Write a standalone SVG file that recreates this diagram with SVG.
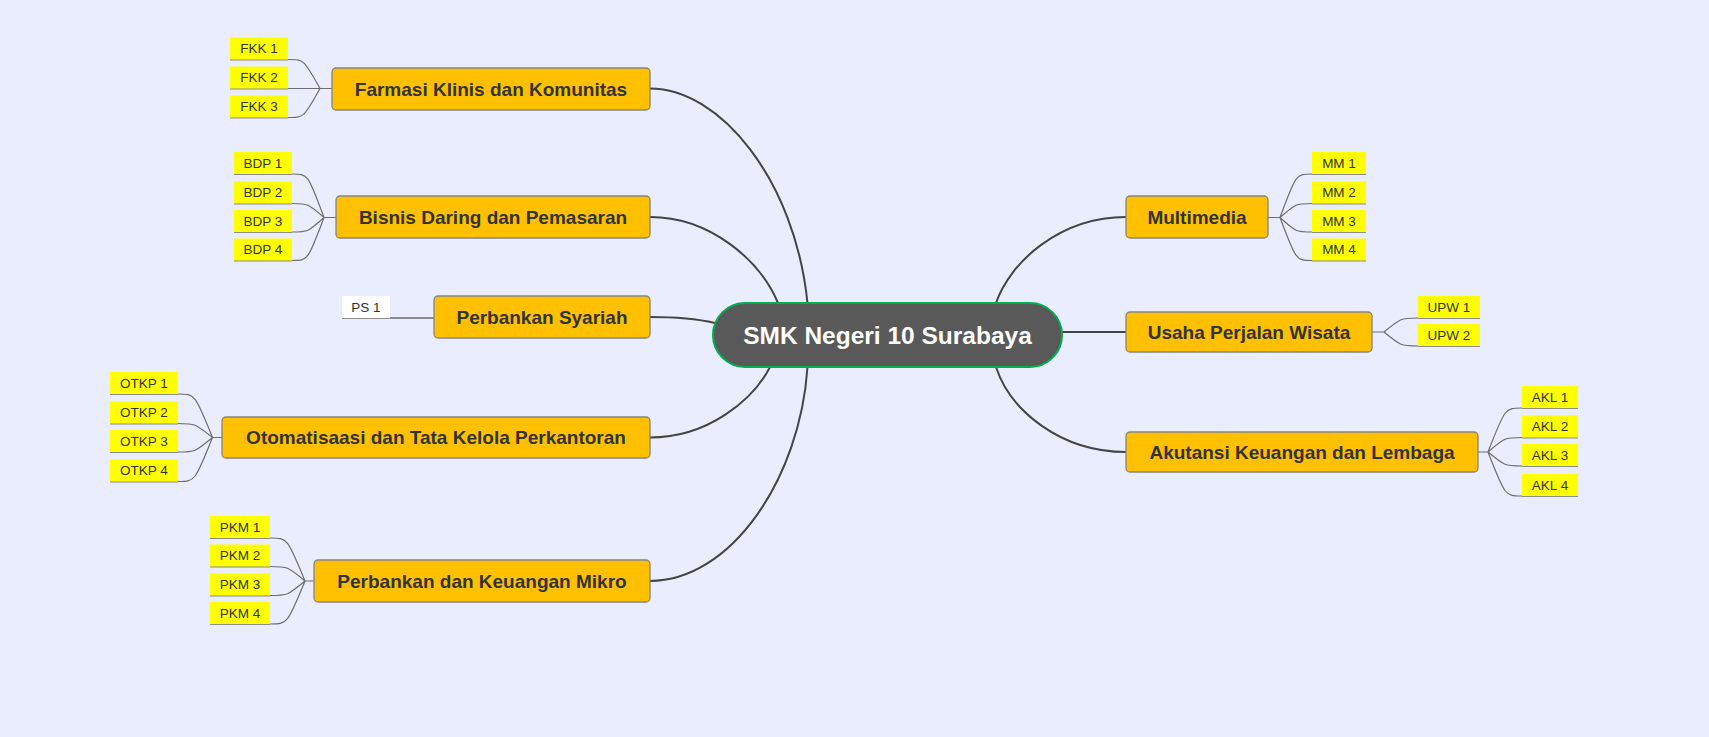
<svg xmlns="http://www.w3.org/2000/svg" width="1709" height="737" viewBox="0 0 1709 737">
<style>
.bg{fill:#E9EDFE}
.node{fill:#FFC000;stroke:#858585;stroke-width:1.3}
.center{fill:#595959;stroke:#00B050;stroke-width:2}
.lab{fill:#FFFF00}
.labw{fill:#FFFFFF}
.nt{font-family:"Liberation Sans",Arial,sans-serif;font-weight:bold;font-size:19px;fill:#333333;text-anchor:middle}
.ct{font-family:"Liberation Sans",Arial,sans-serif;font-weight:bold;font-size:24.5px;fill:#FFFFFF;text-anchor:middle}
.lt{font-family:"Liberation Sans",Arial,sans-serif;font-size:13.5px;fill:#333333;text-anchor:middle}
.main{fill:none;stroke:#444444;stroke-width:2}
.sub{fill:none;stroke:#6E6E6E;stroke-width:1.2}
.ul{fill:none;stroke:#8C8C8C;stroke-width:2}
</style>
<rect class="bg" x="0" y="0" width="1709" height="737"/>

<g id="connectors">
  <!-- main connectors -->
  <path class="main" d="M650,88.5 C720,88.5 795,180 807.5,303"/>
  <path class="main" d="M650,217 C710,217 760,260 778,303"/>
  <path class="main" d="M650,317 C680,317 700,319.5 715,323"/>
  <path class="main" d="M650,437.5 C708,437.5 753,400 770,367"/>
  <path class="main" d="M650,581 C730,581 800,480 807.5,367"/>
  <path class="main" d="M996,303 C1010,262 1060,217 1126,217"/>
  <path class="main" d="M1062,332 L1126,332"/>
  <path class="main" d="M996,367 C1010,410 1060,452 1126,452"/>

  <!-- FKK -->
  <path class="sub" d="M288,59.5 C304,59.5 304,59.5 320,88.5 M288,88.5 L320,88.5 M288,117.5 C304,117.5 304,117.5 320,88.5 M320,88.5 L332,88.5"/>
  <path class="ul" d="M230,59.5 H288 M230,88.5 H288 M230,117.5 H288"/>
  <!-- BDP -->
  <path class="sub" d="M292,174 C308,174 308,174 324,217.5 M292,203.5 C308,203.5 308,203.5 324,217.5 M292,232 C308,232 308,232 324,217.5 M292,260.5 C308,260.5 308,260.5 324,217.5 M324,217.5 L336,217.5"/>
  <path class="ul" d="M234,174 H292 M234,203.5 H292 M234,232 H292 M234,260.5 H292"/>
  <!-- PS -->
  <path class="ul" d="M342,318 H434"/>
  <!-- OTKP -->
  <path class="sub" d="M178,394 C195,394 195,394 212.5,437.5 M178,423.5 C195,423.5 195,423.5 212.5,437.5 M178,452 C195,452 195,452 212.5,437.5 M178,481.5 C195,481.5 195,481.5 212.5,437.5 M212.5,437.5 L222,437.5"/>
  <path class="ul" d="M110,394 H178 M110,423.5 H178 M110,452 H178 M110,481.5 H178"/>
  <!-- PKM -->
  <path class="sub" d="M270,538 C287.5,538 287.5,538 305,581 M270,566.5 C287.5,566.5 287.5,566.5 305,581 M270,595.5 C287.5,595.5 287.5,595.5 305,581 M270,624 C287.5,624 287.5,624 305,581 M305,581 L314,581"/>
  <path class="ul" d="M210,538 H270 M210,566.5 H270 M210,595.5 H270 M210,624 H270"/>
  <!-- MM -->
  <path class="sub" d="M1268,217.5 L1280,217.5 M1280,217.5 C1296,174 1296,174 1312,174 M1280,217.5 C1296,203.5 1296,203.5 1312,203.5 M1280,217.5 C1296,232 1296,232 1312,232 M1280,217.5 C1296,260.5 1296,260.5 1312,260.5"/>
  <path class="ul" d="M1312,174 H1366 M1312,203.5 H1366 M1312,232 H1366 M1312,260.5 H1366"/>
  <!-- UPW -->
  <path class="sub" d="M1372,332 L1384,332 M1384,332 C1401,318 1401,318 1418,318 M1384,332 C1401,346 1401,346 1418,346"/>
  <path class="ul" d="M1418,318 H1480 M1418,346 H1480"/>
  <!-- AKL -->
  <path class="sub" d="M1478,452 L1488,452 M1488,452 C1505,408 1505,408 1522,408 M1488,452 C1505,437.5 1505,437.5 1522,437.5 M1488,452 C1505,466 1505,466 1522,466 M1488,452 C1505,496 1505,496 1522,496"/>
  <path class="ul" d="M1522,408 H1578 M1522,437.5 H1578 M1522,466 H1578 M1522,496 H1578"/>
</g>

<g id="center">
  <rect class="center" x="713" y="303" width="349" height="64" rx="32" ry="32"/>
  <text class="ct" x="887.5" y="343.5">SMK Negeri 10 Surabaya</text>
</g>

<g id="farmasi">
  <rect class="node" x="332" y="68" width="318" height="42" rx="4"/>
  <text class="nt" x="491" y="95.8">Farmasi Klinis dan Komunitas</text>
</g>
<g id="bisnis">
  <rect class="node" x="336" y="196" width="314" height="42" rx="4"/>
  <text class="nt" x="493" y="223.8">Bisnis Daring dan Pemasaran</text>
</g>
<g id="perbankan-syariah">
  <rect class="node" x="434" y="296" width="216" height="42" rx="4"/>
  <text class="nt" x="542" y="323.8">Perbankan Syariah</text>
</g>
<g id="otomatisaasi">
  <rect class="node" x="222" y="417" width="428" height="41" rx="4"/>
  <text class="nt" x="436" y="444.3">Otomatisaasi dan Tata Kelola Perkantoran</text>
</g>
<g id="pkm">
  <rect class="node" x="314" y="560" width="336" height="42" rx="4"/>
  <text class="nt" x="482" y="587.8">Perbankan dan Keuangan Mikro</text>
</g>
<g id="multimedia">
  <rect class="node" x="1126" y="196" width="142" height="42" rx="4"/>
  <text class="nt" x="1197" y="223.8">Multimedia</text>
</g>
<g id="usaha">
  <rect class="node" x="1126" y="312" width="246" height="40" rx="4"/>
  <text class="nt" x="1249" y="338.8">Usaha Perjalan Wisata</text>
</g>
<g id="akutansi">
  <rect class="node" x="1126" y="432" width="352" height="40" rx="4"/>
  <text class="nt" x="1302" y="458.8">Akutansi Keuangan dan Lembaga</text>
</g>

<g id="fkk1"><rect class="lab" x="230" y="37.5" width="58" height="22"/><text class="lt" x="259" y="53">FKK 1</text></g>
<g id="fkk2"><rect class="lab" x="230" y="66.5" width="58" height="22"/><text class="lt" x="259" y="82">FKK 2</text></g>
<g id="fkk3"><rect class="lab" x="230" y="95.5" width="58" height="22"/><text class="lt" x="259" y="111">FKK 3</text></g>

<g id="bdp1"><rect class="lab" x="234" y="152" width="58" height="22"/><text class="lt" x="263" y="167.5">BDP 1</text></g>
<g id="bdp2"><rect class="lab" x="234" y="181.5" width="58" height="22"/><text class="lt" x="263" y="197">BDP 2</text></g>
<g id="bdp3"><rect class="lab" x="234" y="210" width="58" height="22"/><text class="lt" x="263" y="225.5">BDP 3</text></g>
<g id="bdp4"><rect class="lab" x="234" y="238.5" width="58" height="22"/><text class="lt" x="263" y="254">BDP 4</text></g>

<g id="ps1"><rect class="labw" x="342" y="296" width="48" height="22"/><text class="lt" x="366" y="311.5">PS 1</text></g>

<g id="otkp1"><rect class="lab" x="110" y="372" width="68" height="22"/><text class="lt" x="144" y="387.5">OTKP 1</text></g>
<g id="otkp2"><rect class="lab" x="110" y="401.5" width="68" height="22"/><text class="lt" x="144" y="417">OTKP 2</text></g>
<g id="otkp3"><rect class="lab" x="110" y="430" width="68" height="22"/><text class="lt" x="144" y="445.5">OTKP 3</text></g>
<g id="otkp4"><rect class="lab" x="110" y="459.5" width="68" height="22"/><text class="lt" x="144" y="475">OTKP 4</text></g>

<g id="pkm1"><rect class="lab" x="210" y="516" width="60" height="22"/><text class="lt" x="240" y="531.5">PKM 1</text></g>
<g id="pkm2"><rect class="lab" x="210" y="544.5" width="60" height="22"/><text class="lt" x="240" y="560">PKM 2</text></g>
<g id="pkm3"><rect class="lab" x="210" y="573.5" width="60" height="22"/><text class="lt" x="240" y="589">PKM 3</text></g>
<g id="pkm4"><rect class="lab" x="210" y="602" width="60" height="22"/><text class="lt" x="240" y="617.5">PKM 4</text></g>

<g id="mm1"><rect class="lab" x="1312" y="152" width="54" height="22"/><text class="lt" x="1339" y="167.5">MM 1</text></g>
<g id="mm2"><rect class="lab" x="1312" y="181.5" width="54" height="22"/><text class="lt" x="1339" y="197">MM 2</text></g>
<g id="mm3"><rect class="lab" x="1312" y="210" width="54" height="22"/><text class="lt" x="1339" y="225.5">MM 3</text></g>
<g id="mm4"><rect class="lab" x="1312" y="238.5" width="54" height="22"/><text class="lt" x="1339" y="254">MM 4</text></g>

<g id="upw1"><rect class="lab" x="1418" y="296" width="62" height="22"/><text class="lt" x="1449" y="311.5">UPW 1</text></g>
<g id="upw2"><rect class="lab" x="1418" y="324" width="62" height="22"/><text class="lt" x="1449" y="339.5">UPW 2</text></g>

<g id="akl1"><rect class="lab" x="1522" y="386" width="56" height="22"/><text class="lt" x="1550" y="401.5">AKL 1</text></g>
<g id="akl2"><rect class="lab" x="1522" y="415.5" width="56" height="22"/><text class="lt" x="1550" y="431">AKL 2</text></g>
<g id="akl3"><rect class="lab" x="1522" y="444" width="56" height="22"/><text class="lt" x="1550" y="459.5">AKL 3</text></g>
<g id="akl4"><rect class="lab" x="1522" y="474" width="56" height="22"/><text class="lt" x="1550" y="489.5">AKL 4</text></g>
</svg>
